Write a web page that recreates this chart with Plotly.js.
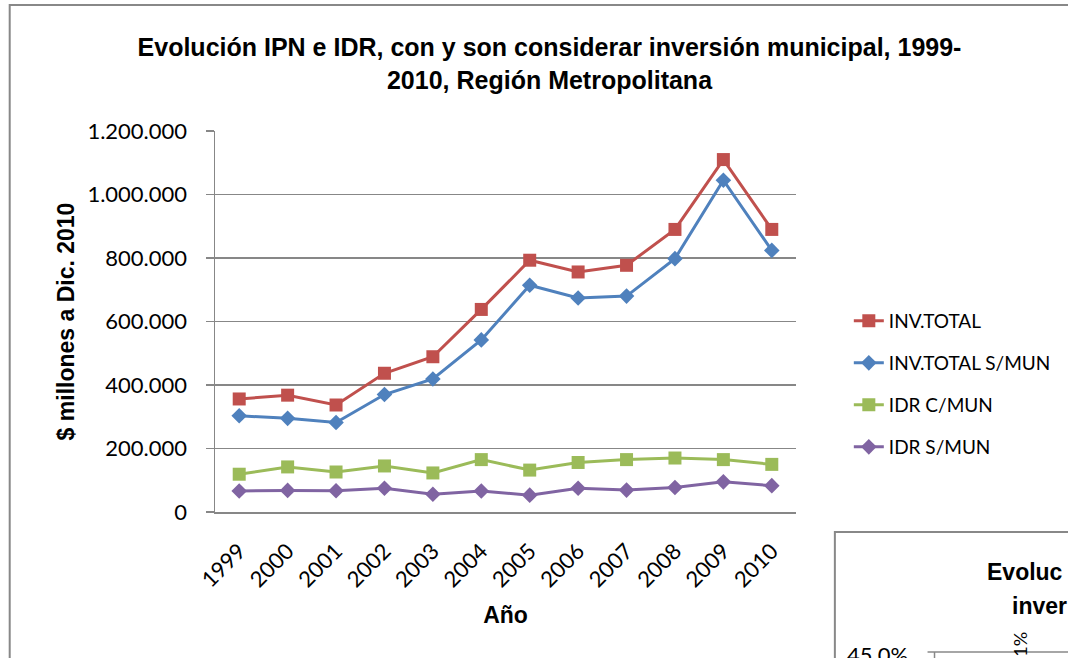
<!DOCTYPE html>
<html>
<head>
<meta charset="utf-8">
<script src="https://cdn.plot.ly/plotly-3.0.1.min.js"></script>
<style>html,body{margin:0;padding:0;background:#fff;}#chart{width:1068px;height:658px;}</style>
</head>
<body>
<div id="chart"></div>
<script>
var years = ['1999','2000','2001','2002','2003','2004','2005','2006','2007','2008','2009','2010'];
var invTotal =     [356000, 368000, 337000, 437000, 489000, 638000, 793000, 756000, 777000, 890000, 1110000, 890000];
var invTotalSMun = [303000, 295000, 282000, 370000, 419000, 542000, 714000, 674000, 680000, 798000, 1045000, 824000];
var idrCMun =      [119000, 142000, 126000, 145000, 123000, 165000, 132000, 156000, 165000, 170000, 165000, 150000];
var idrSMun =      [66000, 68000, 67000, 75000, 56000, 66000, 53000, 75000, 69000, 77000, 95000, 83000];
var seriesNames = ['INV.TOTAL', 'INV.TOTAL S/MUN', 'IDR C/MUN', 'IDR S/MUN'];
var yTickVals = [0, 200000, 400000, 600000, 800000, 1000000, 1200000];
var yTickText = ['0', '200.000', '400.000', '600.000', '800.000', '1.000.000', '1.200.000'];

var W = 1068, H = 658;
var L = 215, R = 798, T = 131, B = 512;
function px(X){ return (X - L) / (R - L); }
function py(Y){ return (B - Y) / (B - T); }

var font = 'Lato, "Open Sans", sans-serif';
var bfont = '"Liberation Sans", Arial, sans-serif';
var colors = ['#C0504D', '#4F81BD', '#9BBB59', '#8064A2'];
var symbols = ['square', 'diamond', 'square', 'diamond'];
var sizes = [13, 12, 13, 12];
var data = [invTotal, invTotalSMun, idrCMun, idrSMun];

var traces = data.map(function(vals, i){
  return {
    type: 'scatter', mode: 'lines+markers',
    x: years, y: vals, name: seriesNames[i],
    legendgroup: 'g' + i,
    line: {color: colors[i], width: 3},
    marker: {color: colors[i], symbol: symbols[i], size: sizes[i]},
    cliponaxis: false
  };
});

var grid = '#878787';
var layout = {
  width: W, height: H,
  margin: {l: L, r: W - R, t: T, b: H - B, pad: 0},
  paper_bgcolor: '#fff', plot_bgcolor: '#fff',
  separators: ',.',
  font: {family: font, color: '#000'},
  title: {
    text: 'Evolución IPN e IDR, con y son considerar inversión municipal, 1999-<br>2010, Región Metropolitana',
    font: {family: bfont, size: 25, color: '#000', weight: 'bold'},
    x: 549.5 / W, xanchor: 'center', xref: 'container',
    y: 1 - 56 / H, yanchor: 'middle', yref: 'container'
  },
  xaxis: {
    type: 'category', range: [-0.5, 11.5],
    showgrid: false, showline: true, linecolor: grid, linewidth: 1.5,
    ticks: '', tickangle: -45,
    tickfont: {family: font, size: 22, color: '#000'},
    ticklabelstandoff: 16,
    title: {text: 'Año', font: {family: bfont, size: 23, weight: 'bold', color: '#000'}, standoff: 15},
    zeroline: false, fixedrange: true
  },
  yaxis: {
    range: [0, 1200000],
    tickvals: yTickVals, ticktext: yTickText,
    showgrid: true, gridcolor: grid, gridwidth: 1.5,
    showline: true, linecolor: grid, linewidth: 1.5,
    ticks: 'outside', ticklen: 8, tickcolor: grid, tickwidth: 1.5,
    tickfont: {family: font, size: 22, color: '#000'},
    ticklabelstandoff: 14,
    title: {text: '$ millones a Dic. 2010', font: {family: bfont, size: 23, weight: 'bold', color: '#000'}, standoff: 6},
    zeroline: false, fixedrange: true
  },
  showlegend: true,
  legend: {
    x: px(851), xanchor: 'left', y: py(302), yanchor: 'top',
    traceorder: 'grouped', tracegroupgap: 14.3,
    font: {family: font, size: 19, color: '#000'},
    bgcolor: 'rgba(0,0,0,0)', borderwidth: 0
  },
  shapes: [
    {type: 'rect', xref: 'paper', yref: 'paper', x0: px(9), x1: px(1100), y0: py(5), y1: py(720),
     line: {color: '#888', width: 2}, fillcolor: 'rgba(0,0,0,0)', layer: 'below'},
    {type: 'rect', xref: 'paper', yref: 'paper', x0: px(837), x1: px(1100), y0: py(532), y1: py(720),
     line: {color: '#888', width: 2}, fillcolor: '#fff', layer: 'above'},
    {type: 'line', xref: 'paper', yref: 'paper', x0: px(930), x1: px(1100), y0: py(652), y1: py(652),
     line: {color: '#888', width: 1.5}, layer: 'above'},
    {type: 'line', xref: 'paper', yref: 'paper', x0: px(937), x1: px(937), y0: py(652), y1: py(700),
     line: {color: '#888', width: 1.5}, layer: 'above'}
  ],
  annotations: [
    {xref: 'paper', yref: 'paper', x: px(988), y: py(572), xanchor: 'left', yanchor: 'middle',
     text: 'Evoluc', showarrow: false, font: {family: bfont, size: 23, weight: 'bold', color: '#000'}},
    {xref: 'paper', yref: 'paper', x: px(1013), y: py(606), xanchor: 'left', yanchor: 'middle',
     text: 'inver', showarrow: false, font: {family: bfont, size: 23, weight: 'bold', color: '#000'}},
    {xref: 'paper', yref: 'paper', x: px(847), y: py(639), xanchor: 'left', yanchor: 'top',
     text: '45.0%', showarrow: false, font: {family: font, size: 22, color: '#000'}},
    {xref: 'paper', yref: 'paper', x: px(1022), y: py(630), xanchor: 'center', yanchor: 'top',
     text: '1%', textangle: -90, showarrow: false, font: {family: font, size: 18, color: '#000'}}
  ]
};

Plotly.newPlot('chart', traces, layout, {displayModeBar: false, staticPlot: true});
</script>
</body>
</html>
